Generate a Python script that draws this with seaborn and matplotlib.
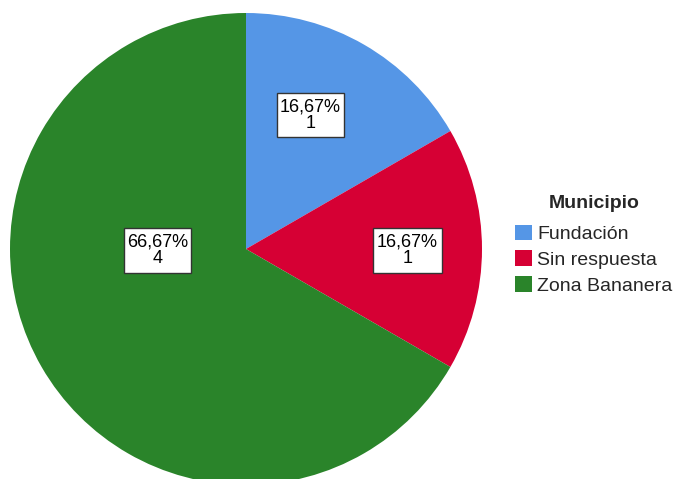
import matplotlib
matplotlib.use("Agg")
import matplotlib.pyplot as plt
from matplotlib.patches import Rectangle
import seaborn as sns

# Survey responses by municipality
categories = ["Fundación", "Sin respuesta", "Zona Bananera"]
counts = [1, 1, 4]
percent_labels = ["16,67%", "16,67%", "66,67%"]

sns.set_theme(style="white")
plt.rcParams["font.family"] = ["Liberation Sans", "DejaVu Sans"]

colors = ["#5596e6", "#d60034", "#2a842a"]

W, H = 676, 479
fig = plt.figure(figsize=(W / 100, H / 100), dpi=100)
cx, cy, r = 246, 249, 236
ax = fig.add_axes([(cx - r) / W, (H - cy - r) / H, 2 * r / W, 2 * r / H])

wedges, _ = ax.pie(counts, colors=colors, startangle=90, counterclock=False,
                   radius=1, wedgeprops=dict(linewidth=0))
ax.set_xlim(-1, 1)
ax.set_ylim(-1, 1)
ax.set_aspect("equal")
ax.axis("off")

# Label boxes: centre (pie radius units) and box width/height
label_pos = [(0.273, 0.568), (0.684, -0.006), (-0.375, -0.006)]
box_w = [0.284, 0.292, 0.284]
box_h = 0.19
for (x, y), w, pct, n in zip(label_pos, box_w, percent_labels, counts):
    ax.add_patch(Rectangle((x - w / 2, y - box_h / 2), w, box_h,
                           facecolor="white", edgecolor="#333333",
                           linewidth=1, zorder=3))
    ax.text(x, y, f"{pct}\n{n}", ha="center", va="center", fontsize=13,
            linespacing=0.95, color="black", zorder=4)

leg = fig.legend(wedges, categories, title="Municipio", loc="upper left",
                 bbox_to_anchor=(515 / W, 1 - 195 / H), frameon=False,
                 fontsize=14, title_fontproperties=dict(weight="bold", size=14),
                 handlelength=0.85, handleheight=0.85, handletextpad=0.3,
                 labelspacing=0.38, borderpad=0, borderaxespad=0)
leg._legend_box.align = "center"
leg._legend_box.sep = 9

fig.savefig("out.png", dpi=100)
